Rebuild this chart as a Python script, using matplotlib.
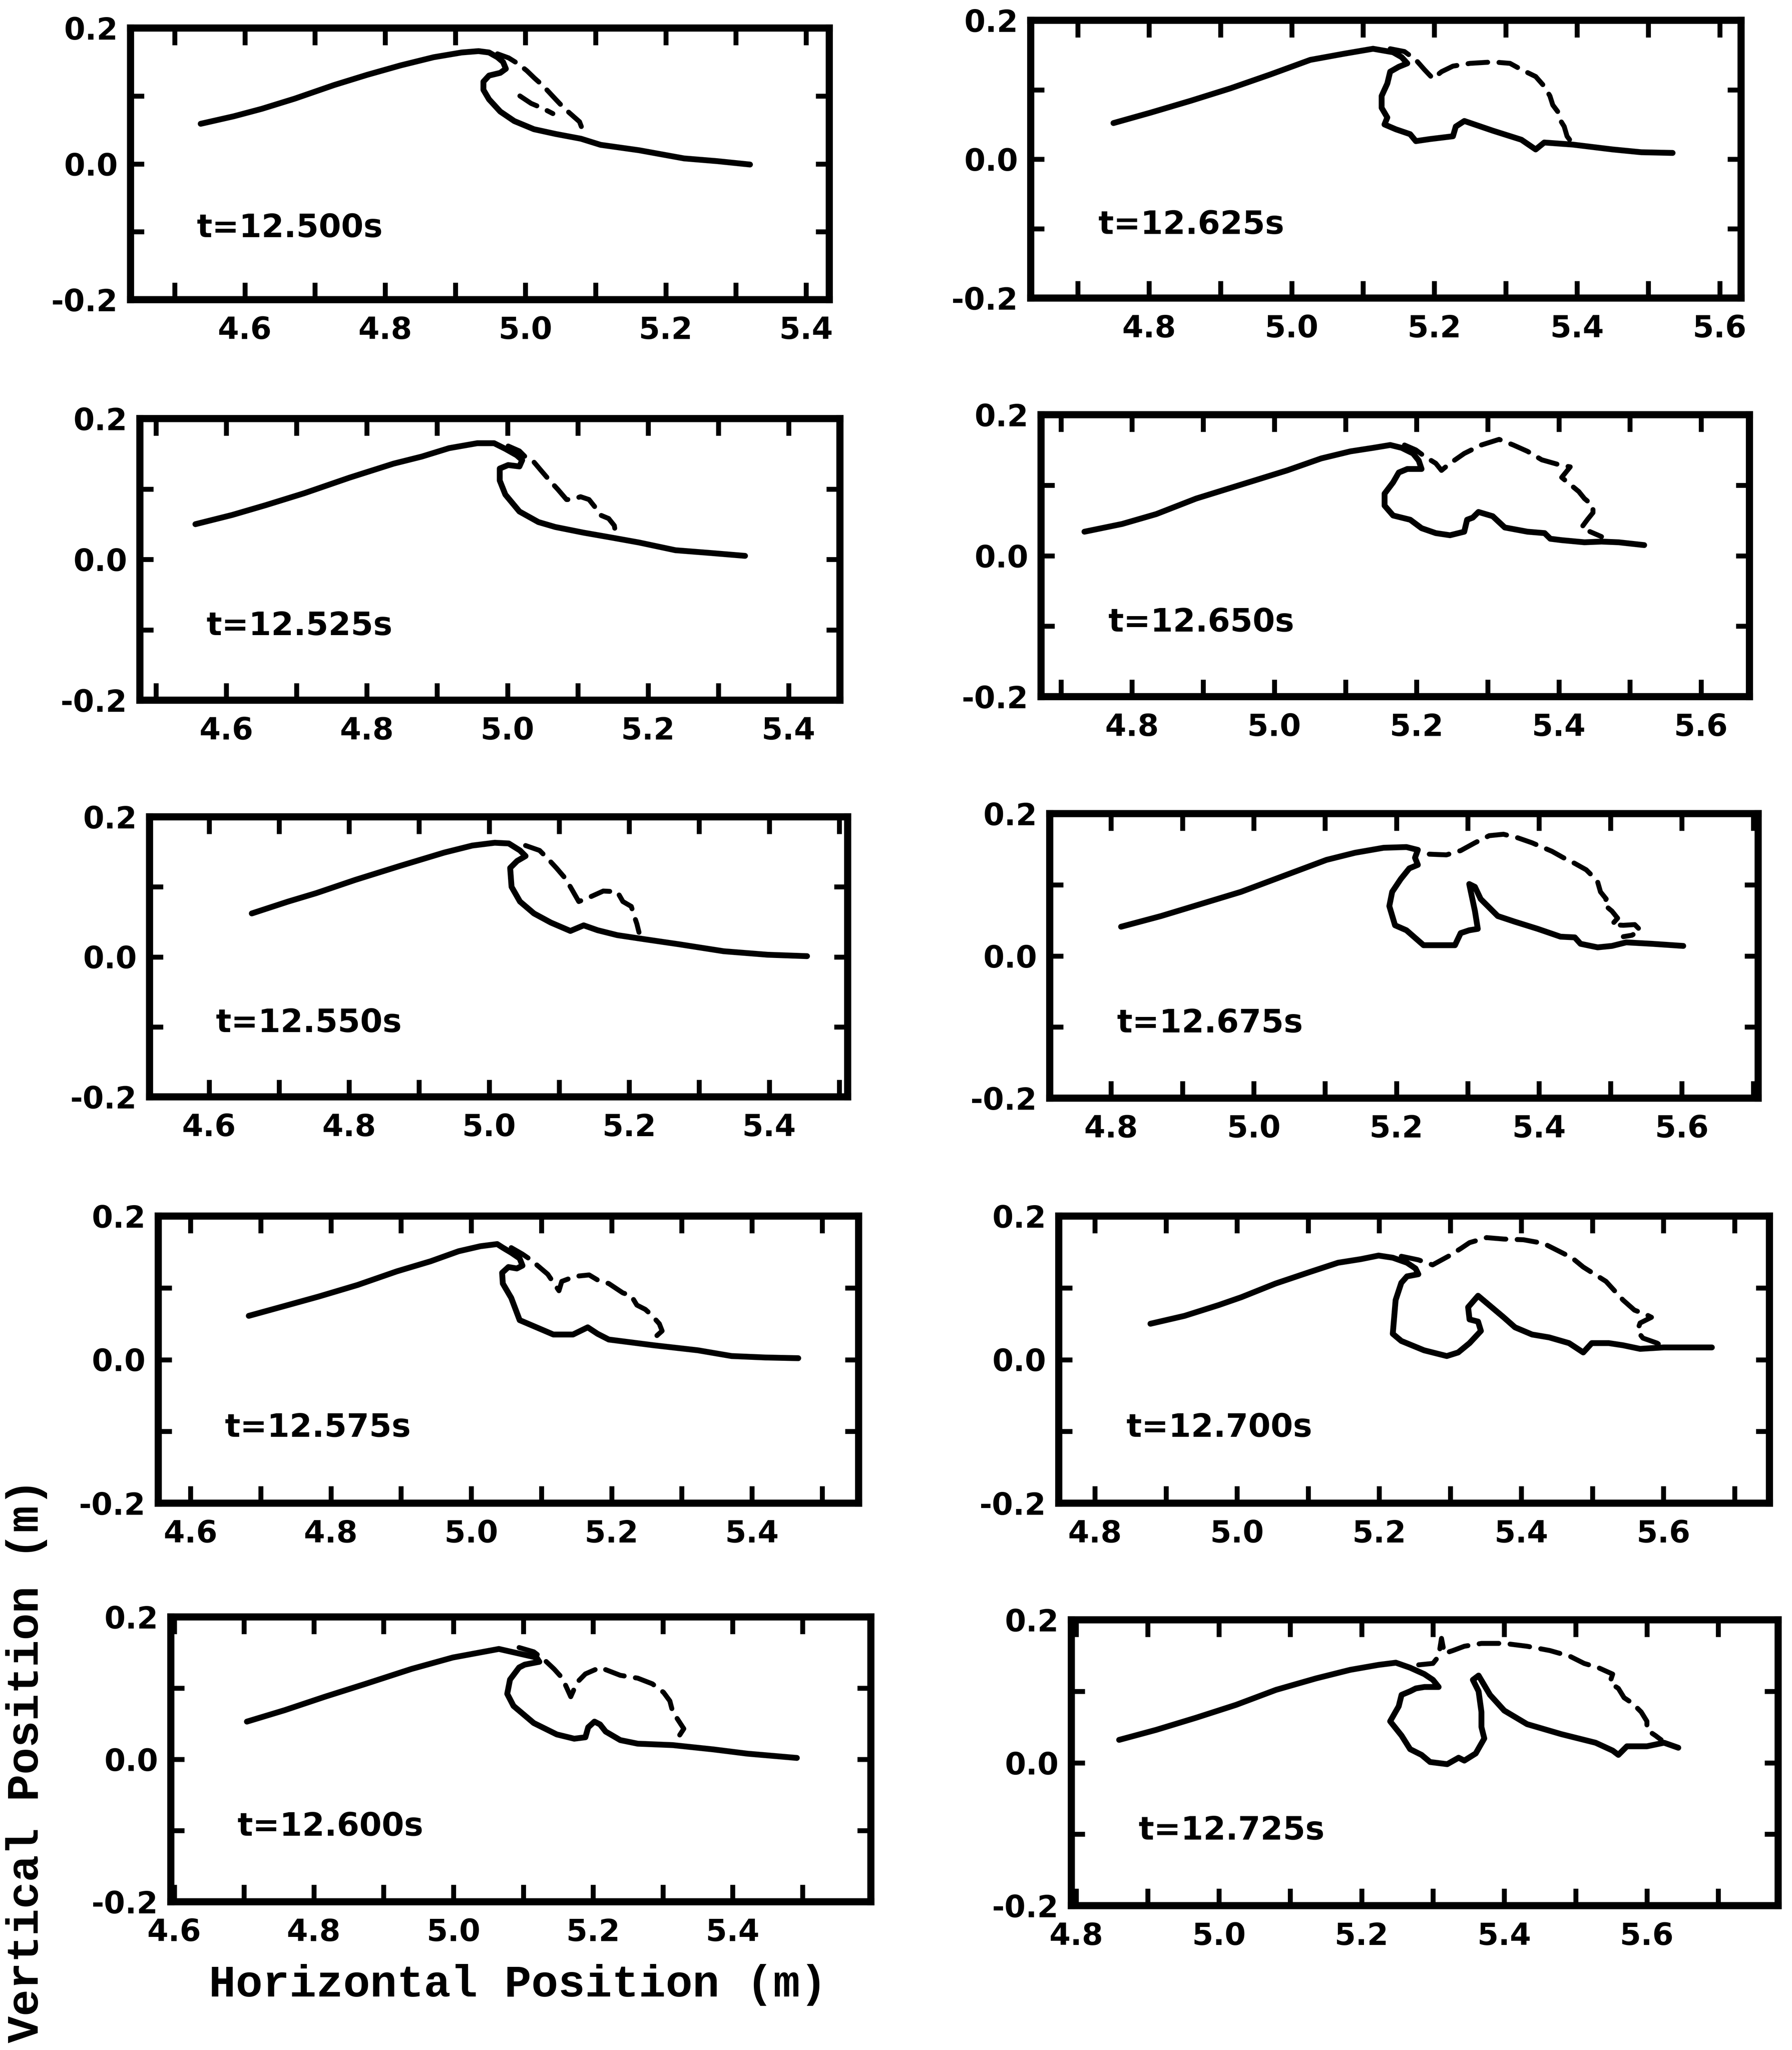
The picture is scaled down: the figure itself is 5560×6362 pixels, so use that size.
import matplotlib
matplotlib.use("Agg")
import matplotlib.pyplot as plt
from matplotlib.ticker import MultipleLocator, FormatStrFormatter

# ---------------------------------------------------------------------------
# Free-surface profiles of a plunging breaker (x, y in metres).
# "surf" = computed free surface (solid), "jet" = overturning jet / splash (dashed)
# ---------------------------------------------------------------------------
times = ["12.500", "12.525", "12.550", "12.575", "12.600",
         "12.625", "12.650", "12.675", "12.700", "12.725"]

surf_12500_x = [4.537, 4.584, 4.624, 4.671, 4.727, 4.774, 4.822, 4.869, 4.909, 4.933, 4.948, 4.960, 4.968,
                4.972, 4.964, 4.948, 4.940, 4.940, 4.948, 4.964, 4.984, 5.012, 5.043, 5.079, 5.107, 5.162,
                5.226, 5.273, 5.320]
surf_12500_y = [0.059, 0.070, 0.081, 0.096, 0.116, 0.131, 0.145, 0.157, 0.164, 0.166, 0.164, 0.157, 0.150,
                0.140, 0.134, 0.130, 0.121, 0.109, 0.095, 0.077, 0.063, 0.051, 0.044, 0.037, 0.028, 0.020,
                0.008, 0.004, -0.001]
jet_12500_x = [4.960, 4.976, 4.990, 5.002, 5.013, 5.024, 5.034, 5.043, 5.055, 5.066, 5.077, 5.081, 5.081]
jet_12500_y = [0.162, 0.156, 0.147, 0.137, 0.126, 0.116, 0.105, 0.095, 0.082, 0.072, 0.062, 0.051, 0.041]
drop_12500_x = [4.992, 5.008, 5.024, 5.039]
drop_12500_y = [0.100, 0.089, 0.082, 0.074]

surf_12525_x = [4.556, 4.608, 4.656, 4.711, 4.775, 4.838, 4.878, 4.917, 4.957, 4.981, 4.997, 5.013, 5.021,
                5.017, 5.001, 4.989, 4.989, 4.997, 5.017, 5.044, 5.068, 5.108, 5.148, 5.187, 5.239, 5.290,
                5.338]
surf_12525_y = [0.050, 0.063, 0.077, 0.094, 0.116, 0.136, 0.146, 0.158, 0.165, 0.165, 0.157, 0.148, 0.141,
                0.132, 0.134, 0.129, 0.112, 0.092, 0.068, 0.053, 0.046, 0.038, 0.031, 0.024, 0.013, 0.009,
                0.005]
jet_12525_x = [5.001, 5.017, 5.025, 5.037, 5.048, 5.060, 5.072, 5.084, 5.092, 5.104, 5.116, 5.124, 5.132,
               5.144, 5.152, 5.154]
jet_12525_y = [0.161, 0.154, 0.146, 0.139, 0.126, 0.112, 0.099, 0.085, 0.085, 0.089, 0.085, 0.075, 0.063,
               0.058, 0.048, 0.036]

surf_12550_x = [4.661, 4.713, 4.753, 4.809, 4.873, 4.936, 4.976, 5.008, 5.028, 5.044, 5.052, 5.040, 5.030,
                5.032, 5.044, 5.064, 5.088, 5.116, 5.135, 5.155, 5.183, 5.223, 5.271, 5.335, 5.398, 5.454]
surf_12550_y = [0.062, 0.079, 0.091, 0.110, 0.130, 0.149, 0.159, 0.163, 0.162, 0.152, 0.144, 0.137, 0.127,
                0.100, 0.079, 0.062, 0.049, 0.037, 0.045, 0.038, 0.031, 0.025, 0.018, 0.008, 0.003, 0.001]
jet_12550_x = [5.052, 5.072, 5.084, 5.096, 5.108, 5.116, 5.128, 5.143, 5.163, 5.183, 5.191, 5.203, 5.207,
               5.211, 5.214]
jet_12550_y = [0.159, 0.152, 0.140, 0.127, 0.113, 0.100, 0.079, 0.085, 0.094, 0.093, 0.079, 0.072, 0.059,
               0.047, 0.035]

surf_12575_x = [4.683, 4.735, 4.783, 4.838, 4.894, 4.942, 4.982, 5.013, 5.037, 5.045, 5.057, 5.069, 5.073,
                5.065, 5.053, 5.044, 5.045, 5.057, 5.069, 5.093, 5.117, 5.145, 5.166, 5.180, 5.196, 5.260,
                5.323, 5.371, 5.419, 5.466]
surf_12575_y = [0.061, 0.075, 0.088, 0.104, 0.123, 0.137, 0.151, 0.158, 0.161, 0.156, 0.149, 0.141, 0.131,
                0.127, 0.129, 0.121, 0.106, 0.086, 0.055, 0.045, 0.035, 0.035, 0.045, 0.036, 0.028, 0.020,
                0.013, 0.005, 0.003, 0.002]
jet_12575_x = [5.057, 5.073, 5.085, 5.097, 5.109, 5.125, 5.129, 5.148, 5.168, 5.180, 5.196, 5.216, 5.228,
               5.236, 5.248, 5.256, 5.268, 5.272, 5.264, 5.268]
jet_12575_y = [0.156, 0.147, 0.139, 0.129, 0.119, 0.096, 0.109, 0.116, 0.118, 0.111, 0.106, 0.093, 0.089,
               0.076, 0.070, 0.063, 0.050, 0.040, 0.033, 0.023]

surf_12600_x = [4.704, 4.758, 4.816, 4.874, 4.940, 4.999, 5.032, 5.065, 5.119, 5.123, 5.102, 5.094, 5.081,
                5.077, 5.086, 5.115, 5.148, 5.173, 5.189, 5.193, 5.202, 5.210, 5.218, 5.239, 5.264, 5.314,
                5.372, 5.421, 5.492]
surf_12600_y = [0.053, 0.069, 0.088, 0.106, 0.127, 0.143, 0.149, 0.155, 0.143, 0.137, 0.133, 0.129, 0.112,
                0.092, 0.075, 0.051, 0.035, 0.029, 0.031, 0.045, 0.053, 0.049, 0.039, 0.027, 0.022, 0.020,
                0.014, 0.008, 0.002]
jet_12600_x = [5.094, 5.115, 5.131, 5.144, 5.156, 5.168, 5.177, 5.189, 5.210, 5.239, 5.264, 5.285, 5.301,
               5.310, 5.314, 5.322, 5.330, 5.322]
jet_12600_y = [0.157, 0.151, 0.139, 0.127, 0.114, 0.088, 0.108, 0.120, 0.129, 0.118, 0.114, 0.106, 0.094,
               0.082, 0.067, 0.055, 0.043, 0.031]

surf_12625_x = [4.750, 4.802, 4.858, 4.914, 4.970, 5.026, 5.074, 5.114, 5.142, 5.154, 5.162, 5.150, 5.138,
                5.134, 5.126, 5.126, 5.134, 5.130, 5.146, 5.166, 5.174, 5.194, 5.226, 5.230, 5.242, 5.282,
                5.322, 5.342, 5.354, 5.394, 5.450, 5.490, 5.534]
surf_12625_y = [0.052, 0.067, 0.084, 0.102, 0.122, 0.143, 0.152, 0.159, 0.154, 0.147, 0.138, 0.133, 0.126,
                0.109, 0.091, 0.074, 0.060, 0.050, 0.043, 0.036, 0.026, 0.029, 0.033, 0.047, 0.055, 0.041,
                0.028, 0.014, 0.024, 0.021, 0.014, 0.010, 0.009]
jet_12625_x = [5.138, 5.158, 5.174, 5.186, 5.198, 5.210, 5.226, 5.250, 5.282, 5.306, 5.322, 5.342, 5.354,
               5.362, 5.366, 5.374, 5.376, 5.382, 5.386, 5.394]
jet_12625_y = [0.159, 0.155, 0.143, 0.129, 0.116, 0.126, 0.134, 0.138, 0.140, 0.138, 0.129, 0.119, 0.105,
               0.091, 0.078, 0.067, 0.057, 0.047, 0.033, 0.022]

surf_12650_x = [4.733, 4.786, 4.834, 4.890, 4.954, 5.018, 5.066, 5.107, 5.139, 5.163, 5.179, 5.195, 5.203,
                5.207, 5.187, 5.175, 5.167, 5.155, 5.155, 5.167, 5.191, 5.207, 5.227, 5.247, 5.267, 5.271,
                5.279, 5.287, 5.307, 5.324, 5.356, 5.380, 5.388, 5.404, 5.436, 5.460, 5.484, 5.520]
surf_12650_y = [0.034, 0.045, 0.059, 0.081, 0.101, 0.121, 0.138, 0.148, 0.153, 0.157, 0.153, 0.145, 0.135,
                0.123, 0.123, 0.118, 0.104, 0.088, 0.071, 0.057, 0.051, 0.039, 0.032, 0.029, 0.034, 0.051,
                0.054, 0.062, 0.056, 0.040, 0.034, 0.032, 0.024, 0.022, 0.019, 0.020, 0.019, 0.015]
jet_12650_x = [5.183, 5.199, 5.211, 5.227, 5.235, 5.247, 5.267, 5.291, 5.316, 5.336, 5.356, 5.376, 5.404,
               5.416, 5.404, 5.416, 5.428, 5.436, 5.448, 5.448, 5.440, 5.432, 5.444, 5.460]
jet_12650_y = [0.157, 0.150, 0.141, 0.131, 0.121, 0.131, 0.145, 0.157, 0.165, 0.157, 0.148, 0.136, 0.128,
               0.126, 0.111, 0.101, 0.091, 0.081, 0.071, 0.061, 0.051, 0.040, 0.034, 0.027]

surf_12675_x = [4.814, 4.870, 4.926, 4.982, 5.046, 5.102, 5.142, 5.182, 5.214, 5.230, 5.226, 5.230, 5.218,
                5.206, 5.194, 5.190, 5.198, 5.214, 5.230, 5.238, 5.282, 5.290, 5.302, 5.314, 5.310, 5.302,
                5.310, 5.318, 5.342, 5.366, 5.398, 5.430, 5.450, 5.458, 5.482, 5.502, 5.522, 5.558, 5.602]
surf_12675_y = [0.041, 0.056, 0.073, 0.090, 0.114, 0.135, 0.145, 0.152, 0.153, 0.149, 0.138, 0.128, 0.123,
                0.108, 0.090, 0.070, 0.043, 0.036, 0.022, 0.015, 0.015, 0.032, 0.036, 0.038, 0.063, 0.101,
                0.097, 0.080, 0.056, 0.048, 0.038, 0.027, 0.026, 0.017, 0.012, 0.014, 0.019, 0.017, 0.014]
jet_12675_x = [5.246, 5.270, 5.290, 5.310, 5.330, 5.350, 5.370, 5.390, 5.418, 5.434, 5.450, 5.466, 5.474,
               5.482, 5.486, 5.494, 5.490, 5.502, 5.510, 5.502, 5.518, 5.534, 5.542, 5.530, 5.518]
jet_12675_y = [0.143, 0.142, 0.148, 0.159, 0.169, 0.171, 0.166, 0.159, 0.147, 0.138, 0.130, 0.121, 0.113,
               0.104, 0.090, 0.080, 0.073, 0.063, 0.053, 0.044, 0.043, 0.044, 0.036, 0.029, 0.027]

surf_12700_x = [4.878, 4.926, 4.974, 5.006, 5.054, 5.102, 5.142, 5.174, 5.199, 5.219, 5.239, 5.251, 5.255,
                5.239, 5.231, 5.223, 5.219, 5.231, 5.263, 5.295, 5.311, 5.327, 5.343, 5.339, 5.327, 5.325,
                5.339, 5.351, 5.375, 5.391, 5.415, 5.439, 5.467, 5.487, 5.499, 5.523, 5.543, 5.567, 5.600,
                5.632, 5.668]
surf_12700_y = [0.050, 0.061, 0.076, 0.087, 0.106, 0.122, 0.135, 0.140, 0.145, 0.142, 0.135, 0.127, 0.119,
                0.116, 0.107, 0.083, 0.036, 0.026, 0.013, 0.005, 0.010, 0.023, 0.040, 0.053, 0.056, 0.073,
                0.089, 0.079, 0.059, 0.045, 0.035, 0.031, 0.023, 0.010, 0.023, 0.023, 0.020, 0.015, 0.017,
                0.017, 0.017]
jet_12700_x = [5.231, 5.255, 5.275, 5.299, 5.315, 5.327, 5.351, 5.375, 5.403, 5.431, 5.455, 5.471, 5.487,
               5.503, 5.519, 5.531, 5.543, 5.559, 5.575, 5.583, 5.567, 5.563, 5.571, 5.591, 5.600]
jet_12700_y = [0.144, 0.139, 0.132, 0.145, 0.155, 0.163, 0.170, 0.168, 0.167, 0.162, 0.150, 0.142, 0.129,
               0.119, 0.109, 0.096, 0.083, 0.069, 0.063, 0.059, 0.051, 0.040, 0.030, 0.023, 0.017]

surf_12725_x = [4.860, 4.912, 4.968, 5.024, 5.080, 5.136, 5.184, 5.224, 5.248, 5.268, 5.288, 5.300, 5.308,
                5.288, 5.276, 5.268, 5.256, 5.252, 5.240, 5.256, 5.268, 5.284, 5.296, 5.320, 5.336, 5.344,
                5.360, 5.372, 5.368, 5.368, 5.364, 5.356, 5.364, 5.380, 5.400, 5.432, 5.480, 5.528, 5.552,
                5.560, 5.572, 5.600, 5.624, 5.644]
surf_12725_y = [0.032, 0.046, 0.063, 0.081, 0.102, 0.118, 0.130, 0.137, 0.140, 0.133, 0.124, 0.116, 0.106,
                0.106, 0.104, 0.100, 0.095, 0.079, 0.058, 0.038, 0.019, 0.011, 0.001, -0.002, 0.007, 0.003,
                0.013, 0.034, 0.050, 0.071, 0.100, 0.116, 0.122, 0.095, 0.073, 0.054, 0.040, 0.028, 0.017,
                0.011, 0.023, 0.023, 0.028, 0.021]
jet_12725_x = [5.280, 5.300, 5.308, 5.312, 5.316, 5.328, 5.344, 5.368, 5.400, 5.432, 5.464, 5.492, 5.512,
               5.532, 5.552, 5.548, 5.560, 5.568, 5.580, 5.592, 5.600, 5.600, 5.612, 5.620]
jet_12725_y = [0.137, 0.139, 0.149, 0.174, 0.153, 0.157, 0.163, 0.167, 0.167, 0.163, 0.157, 0.149, 0.139,
               0.133, 0.124, 0.112, 0.104, 0.091, 0.083, 0.071, 0.058, 0.046, 0.038, 0.032]

# horizontal window (m) shown in each frame
xlims = [(4.437, 5.433), (4.477, 5.473), (4.515, 5.512), (4.554, 5.552), (4.595, 5.598),
         (4.634, 5.630), (4.672, 5.668), (4.714, 5.707), (4.749, 5.749), (4.793, 5.784)]

solid = [(surf_12500_x, surf_12500_y), (surf_12525_x, surf_12525_y), (surf_12550_x, surf_12550_y),
         (surf_12575_x, surf_12575_y), (surf_12600_x, surf_12600_y), (surf_12625_x, surf_12625_y),
         (surf_12650_x, surf_12650_y), (surf_12675_x, surf_12675_y), (surf_12700_x, surf_12700_y),
         (surf_12725_x, surf_12725_y)]
dashed = [[(jet_12500_x, jet_12500_y), (drop_12500_x, drop_12500_y)],
          [(jet_12525_x, jet_12525_y)], [(jet_12550_x, jet_12550_y)], [(jet_12575_x, jet_12575_y)],
          [(jet_12600_x, jet_12600_y)], [(jet_12625_x, jet_12625_y)], [(jet_12650_x, jet_12650_y)],
          [(jet_12675_x, jet_12675_y)], [(jet_12700_x, jet_12700_y)], [(jet_12725_x, jet_12725_y)]]

# ---------------------------------------------------------------------------
# Layout: panel frames in pixels (left, top, right, bottom)
# ---------------------------------------------------------------------------
W, H = 5560, 6362
frames = [(405, 87, 2573, 930), (434, 1299, 2606, 2173), (464, 2535, 2630, 3404),
          (491, 3774, 2664, 4665), (530, 5018, 2702, 5902),
          (3198, 63, 5402, 925), (3230, 1287, 5428, 2162), (3257, 2525, 5455, 3408),
          (3285, 3774, 5490, 4665), (3324, 5027, 5517, 5914)]

plt.rcParams["axes.unicode_minus"] = False
tick_font = {"family": "DejaVu Sans", "weight": "bold", "size": 68}

fig = plt.figure(figsize=(W / 100, H / 100), dpi=100)
fig.patch.set_facecolor("white")

for i, (l, t, r, b) in enumerate(frames):
    ax = fig.add_axes([l / W, 1 - b / H, (r - l) / W, (b - t) / H])
    sx, sy = solid[i]
    ax.plot(sx, sy, color="black", lw=13, solid_capstyle="round", solid_joinstyle="round")
    for dx, dy in dashed[i]:
        ax.plot(dx, dy, color="black", lw=11, linestyle=(0, (4.0, 2.3)),
                dash_capstyle="round")
    ax.set_xlim(*xlims[i])
    ax.set_ylim(-0.2, 0.2)

    ax.xaxis.set_major_locator(MultipleLocator(0.2))
    ax.xaxis.set_minor_locator(MultipleLocator(0.1))
    ax.yaxis.set_major_locator(MultipleLocator(0.2))
    ax.yaxis.set_minor_locator(MultipleLocator(0.1))
    ax.xaxis.set_major_formatter(FormatStrFormatter("%.1f"))
    ax.yaxis.set_major_formatter(FormatStrFormatter("%.1f"))

    ax.tick_params(axis="x", which="both", direction="in", top=True, bottom=True,
                   length=38, width=11, pad=36)
    ax.tick_params(axis="y", which="both", direction="in", left=True, right=True,
                   length=30, width=11, pad=28)
    for lab in ax.get_xticklabels() + ax.get_yticklabels():
        lab.set_fontproperties(tick_font)
    for sp in ax.spines.values():
        sp.set_linewidth(16)

    ax.text(0.095, -0.095, f"t={times[i]}s", transform=ax.get_yaxis_transform(),
            ha="left", va="center", fontsize=72, fontweight="bold", family="DejaVu Sans")

label_font = dict(family="Liberation Mono", weight="bold", size=100)
fig.text(1607 / W, 1 - 6160 / H, "Horizontal Position (m)", ha="center", va="center", **label_font)
fig.text(82 / W, 1 - 5465 / H, "Vertical Position (m)", ha="center", va="center",
         rotation=90, **label_font)

fig.savefig("out.png", dpi=100, facecolor="white")
